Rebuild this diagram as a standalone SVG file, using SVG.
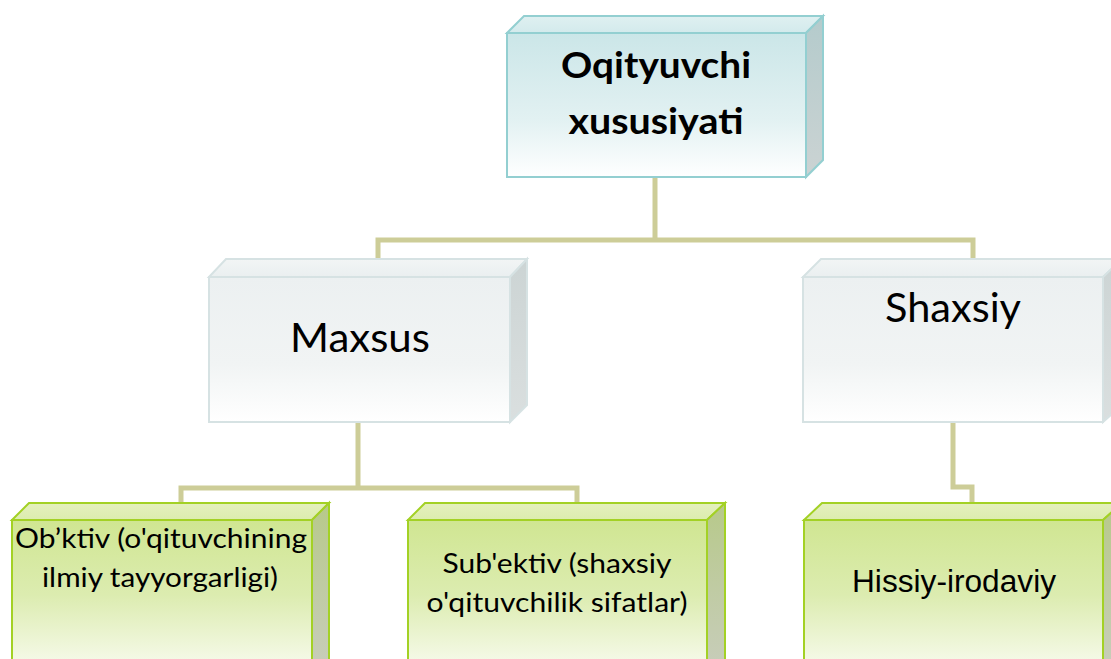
<svg xmlns="http://www.w3.org/2000/svg" width="1111" height="659" viewBox="0 0 1111 659">
<style>
.conn{fill:none;stroke:#cdcd98;stroke-width:5;stroke-linejoin:miter}
.t{font-family:Lato,"Open Sans","Liberation Sans",sans-serif;fill:#000;text-anchor:middle}
.tb{font-family:Lato,"Open Sans","Liberation Sans",sans-serif;font-weight:bold;fill:#000;text-anchor:middle}
.ta{font-family:"Liberation Sans",Arial,sans-serif;fill:#000;text-anchor:middle}
.teal{stroke:#93cfd1;stroke-width:2}
.gray{stroke:#d6e2e3;stroke-width:2}
.grn{stroke:#a3d125;stroke-width:2}
</style>
<defs>
<linearGradient id="gTeal" x1="0" y1="0" x2="0" y2="1"><stop offset="0" stop-color="#cbe6e8"/><stop offset="0.6" stop-color="#e2f1f2"/><stop offset="1" stop-color="#ffffff"/></linearGradient>
<linearGradient id="gTealTop" x1="0" y1="0" x2="0" y2="1"><stop offset="0" stop-color="#dff0f1"/><stop offset="1" stop-color="#d3eaec"/></linearGradient>
<linearGradient id="gTealSide" x1="0" y1="0" x2="0" y2="1"><stop offset="0" stop-color="#b4cbcc"/><stop offset="1" stop-color="#cbd3d3"/></linearGradient>
<linearGradient id="gGray" x1="0" y1="0" x2="0" y2="1"><stop offset="0" stop-color="#ecf0f1"/><stop offset="0.6" stop-color="#f1f4f4"/><stop offset="1" stop-color="#ffffff"/></linearGradient>
<linearGradient id="gGrayTop" x1="0" y1="0" x2="0" y2="1"><stop offset="0" stop-color="#f2f5f5"/><stop offset="1" stop-color="#eaeff0"/></linearGradient>
<linearGradient id="gGraySide" x1="0" y1="0" x2="0" y2="1"><stop offset="0" stop-color="#ccd4d4"/><stop offset="1" stop-color="#dadfdf"/></linearGradient>
<linearGradient id="gGrn" x1="0" y1="0" x2="0" y2="1"><stop offset="0" stop-color="#d0e692"/><stop offset="0.5" stop-color="#dcecb0"/><stop offset="1" stop-color="#f8fbee"/></linearGradient>
<linearGradient id="gGrnTop" x1="0" y1="0" x2="0" y2="1"><stop offset="0" stop-color="#e4f0be"/><stop offset="1" stop-color="#dcecae"/></linearGradient>
<linearGradient id="gGrnSide" x1="0" y1="0" x2="0" y2="1"><stop offset="0" stop-color="#b7c98a"/><stop offset="1" stop-color="#c8cdbb"/></linearGradient>
</defs>
<g id="connectors">
<path class="conn" d="M655 177 V240 M378 260 V240 H973 V260"/>
<path class="conn" d="M358 422 V488 M181 504 V488 H577 V504"/>
<path class="conn" d="M953 422 V487 H972 V504"/>
</g>
<g id="node-root">
<polygon points="507,33 524,16 823,16 806,33" fill="url(#gTealTop)" class="teal"/>
<polygon points="806,33 823,16 823,160 806,177" fill="url(#gTealSide)" class="teal"/>
<rect x="507" y="33" width="299" height="144" fill="url(#gTeal)" class="teal"/>
<text class="tb" x="656" y="78" font-size="37" textLength="190" lengthAdjust="spacingAndGlyphs">Oqityuvchi</text>
<text class="tb" x="656" y="134" font-size="37" textLength="175" lengthAdjust="spacingAndGlyphs">xususiyati</text>
</g>
<g id="node-maxsus">
<polygon points="209,277 226,259 527,259 510,277" fill="url(#gGrayTop)" class="gray"/>
<polygon points="510,277 527,259 527,405 510,422" fill="url(#gGraySide)" class="gray"/>
<rect x="209" y="277" width="301" height="145" fill="url(#gGray)" class="gray"/>
<text class="t" x="360" y="352" font-size="41" textLength="140" lengthAdjust="spacingAndGlyphs">Maxsus</text>
</g>
<g id="node-shaxsiy">
<polygon points="803,277 821,259 1122,259 1103,277" fill="url(#gGrayTop)" class="gray"/>
<polygon points="1103,277 1122,259 1122,405 1103,422" fill="url(#gGraySide)" class="gray"/>
<rect x="803" y="277" width="300" height="145" fill="url(#gGray)" class="gray"/>
<text class="t" x="953" y="322" font-size="41" textLength="136" lengthAdjust="spacingAndGlyphs">Shaxsiy</text>
</g>
<g id="node-obktiv">
<polygon points="12,520 29,503 329,503 312,520" fill="url(#gGrnTop)" class="grn"/>
<polygon points="312,520 329,503 329,660 312,670" fill="url(#gGrnSide)" class="grn"/>
<rect x="12" y="520" width="300" height="150" fill="url(#gGrn)" class="grn"/>
<text class="t" x="161" y="548" font-size="26" textLength="292" lengthAdjust="spacingAndGlyphs">Ob’ktiv (o'qituvchining</text>
<text class="t" x="160" y="587" font-size="26" textLength="236" lengthAdjust="spacingAndGlyphs">ilmiy tayyorgarligi)</text>
</g>
<g id="node-subektiv">
<polygon points="408,520 425,503 725,503 707,520" fill="url(#gGrnTop)" class="grn"/>
<polygon points="707,520 725,503 725,660 707,670" fill="url(#gGrnSide)" class="grn"/>
<rect x="408" y="520" width="299" height="150" fill="url(#gGrn)" class="grn"/>
<text class="t" x="557" y="573" font-size="26" textLength="229" lengthAdjust="spacingAndGlyphs">Sub'ektiv (shaxsiy</text>
<text class="t" x="557" y="612" font-size="26" textLength="261" lengthAdjust="spacingAndGlyphs">o'qituvchilik sifatlar)</text>
</g>
<g id="node-hissiy">
<polygon points="804,520 822,503 1122,503 1103,520" fill="url(#gGrnTop)" class="grn"/>
<polygon points="1103,520 1122,503 1122,660 1103,670" fill="url(#gGrnSide)" class="grn"/>
<rect x="804" y="520" width="299" height="150" fill="url(#gGrn)" class="grn"/>
<text class="ta" x="954" y="592" font-size="31" textLength="204" lengthAdjust="spacingAndGlyphs">Hissiy-irodaviy</text>
</g>
</svg>
